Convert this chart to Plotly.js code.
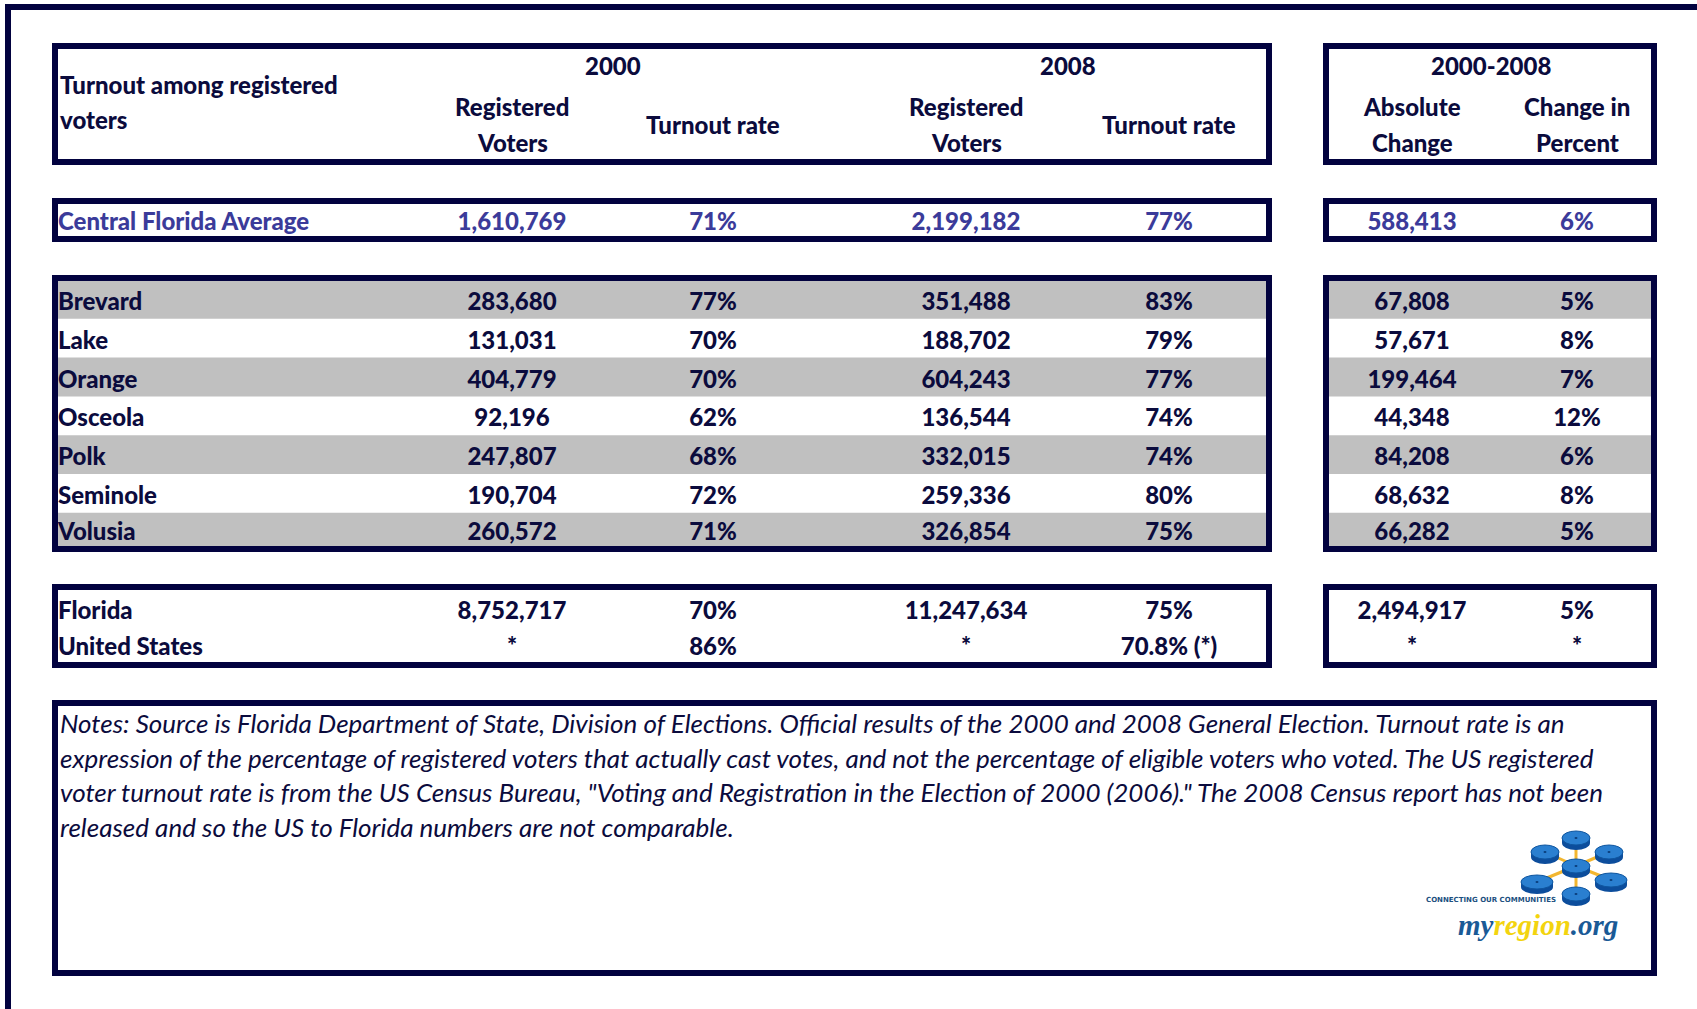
<!DOCTYPE html>
<html>
<head>
<meta charset="utf-8">
<script src="https://cdn.plot.ly/plotly-3.0.1.min.js"></script>
<style>
  html, body { margin: 0; padding: 0; background: #fff; }
  #chart { width: 1697px; height: 1009px; }
</style>
</head>
<body>
<div id="chart"></div>
<script>
// Turnout among registered voters - Central Florida counties, 2000 vs 2008
const counties = ['Brevard', 'Lake', 'Orange', 'Osceola', 'Polk', 'Seminole', 'Volusia'];
const reg2000 = [283680, 131031, 404779, 92196, 247807, 190704, 260572];
const turnout2000 = [77, 70, 70, 62, 68, 72, 71];
const reg2008 = [351488, 188702, 604243, 136544, 332015, 259336, 326854];
const turnout2008 = [83, 79, 77, 74, 74, 80, 75];
const absChange = [67808, 57671, 199464, 44348, 84208, 68632, 66282];
const pctChange = [5, 8, 7, 12, 6, 8, 5];

const cfaLabel = 'Central Florida Average';
const cfaValues = [1610769, 71, 2199182, 77, 588413, 6];

const stateLabels = ['Florida', 'United States'];
const floridaValues = [8752717, 70, 11247634, 75, 2494917, 5];
const usValues = ['*', '86%', '*', '70.8% (*)', '*', '*'];

const columnKinds = ['num', 'pct', 'num', 'pct', 'num', 'pct'];

const notesLines = [
    'Notes: Source is Florida Department of State, Division of Elections. Official results of the 2000 and 2008 General Election. Turnout rate is an',
    'expression of the percentage of registered voters that actually cast votes, and not the percentage of eligible voters who voted. The US registered',
    'voter turnout rate is from the US Census Bureau, "Voting and Registration in the Election of 2000 (2006)." The 2008 Census report has not been',
    'released and so the US to Florida numbers are not comparable.'
];

// layout (pixel space)
const NAVY = '#02023f';
const TEXT = '#0b0b3d';
const CFA_BLUE = '#3b3b9a';
const GRAY = '#c0c0c0';
const FONT = 'Lato, "Open Sans", sans-serif';
const FS = 24;
const WEIGHT = 900;

const labelX = 58;
const colX = [512, 713, 966, 1169, 1412, 1577];
const leftBox = [52, 1272];
const rightBox = [1323, 1657];
const bandTop = 280, bandH = 38.8, countyInnerBottom = 546;
const textShift = 3;

function fmt(v, kind) {
    if (typeof v === 'string') return v;
    return kind === 'num' ? v.toLocaleString('en-US') : v + '%';
}

function countyRowY(i) {
    const top = bandTop + i * bandH;
    const bottom = Math.min(top + bandH, countyInnerBottom);
    return (top + bottom) / 2 + 1.5;
}

function cellTrace(labels, rows, ys, color) {
    const xs = [], yy = [], txt = [];
    rows.forEach((vals, r) => {
        vals.forEach((v, c) => {
            xs.push(colX[c]); yy.push(ys[r] + textShift); txt.push(fmt(v, columnKinds[c]));
        });
    });
    return [
        {
            x: labels.map(() => labelX), y: ys.map(y => y + textShift), text: labels,
            type: 'scatter', mode: 'text', textposition: 'middle right',
            textfont: { family: FONT, size: FS, color: color, weight: WEIGHT },
            hoverinfo: 'skip', showlegend: false
        },
        {
            x: xs, y: yy, text: txt,
            type: 'scatter', mode: 'text', textposition: 'middle center',
            textfont: { family: FONT, size: FS, color: color, weight: WEIGHT },
            hoverinfo: 'skip', showlegend: false
        }
    ];
}

const countyRows = counties.map((_, i) => [reg2000[i], turnout2000[i], reg2008[i], turnout2008[i], absChange[i], pctChange[i]]);
const countyYs = counties.map((_, i) => countyRowY(i));

const traces = [
    ...cellTrace([cfaLabel], [cfaValues], [221], CFA_BLUE),
    ...cellTrace(counties, countyRows, countyYs, TEXT),
    ...cellTrace(stateLabels, [floridaValues, usValues], [610, 646], TEXT)
];

// shapes
const shapes = [];
function box(x0, x1, y0, y1) {
    // outer edges given; 6px border drawn inside them
    shapes.push({ type: 'rect', xref: 'x', yref: 'y', x0: x0 + 3, x1: x1 - 3, y0: y0 + 3, y1: y1 - 3,
        line: { color: NAVY, width: 6 }, fillcolor: 'rgba(0,0,0,0)' });
}

// grey bands on alternate county rows
counties.forEach((_, i) => {
    if (i % 2 !== 0) return;
    const top = bandTop + i * bandH;
    const bottom = Math.min(top + bandH, countyInnerBottom);
    [[leftBox[0] + 6, leftBox[1] - 6], [rightBox[0] + 6, rightBox[1] - 6]].forEach(([a, b]) => {
        shapes.push({ type: 'rect', xref: 'x', yref: 'y', x0: a, x1: b, y0: top, y1: bottom,
            line: { width: 0 }, fillcolor: GRAY, layer: 'below' });
    });
});

// outer frame (top and left only)
shapes.push({ type: 'line', xref: 'x', yref: 'y', x0: 5, x1: 1697, y0: 7, y1: 7, line: { color: NAVY, width: 6 } });
shapes.push({ type: 'line', xref: 'x', yref: 'y', x0: 8, x1: 8, y0: 4, y1: 1009, line: { color: NAVY, width: 6 } });

[[43, 165], [198, 242], [275, 552], [584, 668]].forEach(([y0, y1]) => {
    box(leftBox[0], leftBox[1], y0, y1);
    box(rightBox[0], rightBox[1], y0, y1);
});
box(52, 1657, 700, 976);

// logo: hub with six discs
const hub = [1576, 866];
const discs = [[1576, 838], [1545, 852], [1609, 852], [1537, 882], [1611, 880], [1576, 894]];
discs.forEach(([x, y]) => {
    shapes.push({ type: 'line', xref: 'x', yref: 'y', x0: hub[0], y0: hub[1], x1: x, y1: y,
        line: { color: '#f2b630', width: 3 } });
});
[...discs, hub].forEach(([x, y], k) => {
    const rx = k === 3 || k === 4 ? 16 : 14, ry = 7;
    shapes.push({ type: 'circle', xref: 'x', yref: 'y', x0: x - rx, x1: x + rx, y0: y - ry + 5, y1: y + ry + 5,
        line: { width: 0 }, fillcolor: '#0c4d9c' });
    shapes.push({ type: 'rect', xref: 'x', yref: 'y', x0: x - rx, x1: x + rx, y0: y, y1: y + 5,
        line: { width: 0 }, fillcolor: '#0c4d9c' });
    shapes.push({ type: 'circle', xref: 'x', yref: 'y', x0: x - rx, x1: x + rx, y0: y - ry, y1: y + ry,
        line: { color: '#0e559f', width: 1 }, fillcolor: '#2a7fd0' });
    shapes.push({ type: 'circle', xref: 'x', yref: 'y', x0: x - 1.5, x1: x + 1.5, y0: y - 1, y1: y + 1,
        line: { width: 0 }, fillcolor: '#0a3d7a' });
});

// annotations: header and notes
const annotations = [];
function ann(text, x, y, opts = {}) {
    annotations.push(Object.assign({
        text: text, x: x, y: y, xref: 'x', yref: 'y', showarrow: false,
        xanchor: 'center', yanchor: 'middle',
        font: { family: FONT, size: FS, color: TEXT, weight: WEIGHT }
    }, opts));
}
ann('Turnout among registered', labelX, 84.5, { xanchor: 'left' });
ann('voters', labelX, 119, { xanchor: 'left' });
ann('2000', (colX[0] + colX[1]) / 2, 65);
ann('2008', (colX[2] + colX[3]) / 2, 65);
ann('2000-2008', (colX[4] + colX[5]) / 2 - 4, 65);
[[colX[0], 'Registered', 'Voters'], [colX[2], 'Registered', 'Voters'],
 [colX[4], 'Absolute', 'Change'], [colX[5], 'Change in', 'Percent']].forEach(([x, a, b]) => {
    ann(a, x, 106.5);
    ann(b, x, 142);
});
ann('Turnout rate', colX[1], 124.5);
ann('Turnout rate', colX[3], 124.5);

notesLines.forEach((line, i) => {
    ann(line, labelX, 723 + i * 34.6, {
        xanchor: 'left',
        font: { family: FONT, size: 26, color: TEXT, style: 'italic' }
    });
});

ann('CONNECTING OUR COMMUNITIES', 1424, 900, {
    xanchor: 'left',
    font: { family: '"DejaVu Sans", sans-serif', size: 7, color: '#1b4f80', weight: 700 }
});
ann('<span style="color:#1a5a96">my</span><span style="color:#f3d40f">region</span><span style="color:#1a5a96">.org</span>',
    1620, 925, {
    xanchor: 'right',
    font: { family: '"Liberation Serif", serif', size: 29, style: 'italic', weight: 700 }
});

const layout = {
    width: 1697,
    height: 1009,
    margin: { t: 0, r: 0, b: 0, l: 0 },
    paper_bgcolor: 'white',
    plot_bgcolor: 'white',
    xaxis: { range: [0, 1697], visible: false, fixedrange: true },
    yaxis: { range: [1009, 0], visible: false, fixedrange: true },
    shapes: shapes,
    annotations: annotations,
    showlegend: false
};

Plotly.newPlot('chart', traces, layout, { displayModeBar: false, staticPlot: true });
</script>
</body>
</html>
